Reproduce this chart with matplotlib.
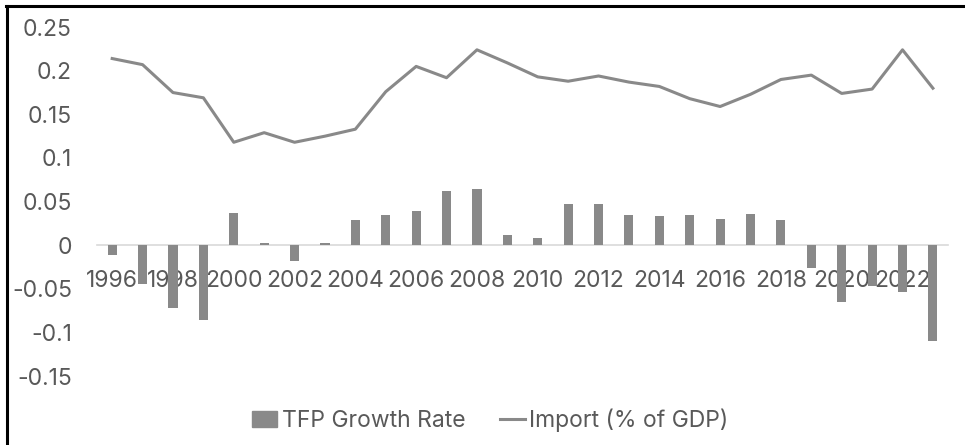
import matplotlib.pyplot as plt
import numpy as np
from matplotlib.lines import Line2D

years = list(range(1996, 2024))

tfp_growth = [-0.011, -0.044, -0.072, -0.086, 0.037, 0.002, -0.018, 0.002, 0.029, 0.035,
              0.039, 0.062, 0.065, 0.012, 0.008, 0.047, 0.047, 0.035, 0.034, 0.035,
              0.030, 0.036, 0.029, -0.026, -0.065, -0.047, -0.054, -0.110]

imports_gdp = [0.214, 0.207, 0.175, 0.169, 0.118, 0.129, 0.118, 0.125, 0.133, 0.176,
               0.205, 0.192, 0.224, 0.209, 0.193, 0.188, 0.194, 0.187, 0.182, 0.168,
               0.159, 0.173, 0.190, 0.195, 0.174, 0.179, 0.224, 0.180]

yticks = [-0.15, -0.1, -0.05, 0, 0.05, 0.1, 0.15, 0.2, 0.25]
ytick_labels = ['-0.15', '-0.1', '-0.05', '0', '0.05', '0.1', '0.15', '0.2', '0.25']

plt.rcParams['font.family'] = ['Inter', 'DejaVu Sans']
txt = '#595959'
grey = '#898989'
fs = 16.5

fig = plt.figure(figsize=(9.65, 4.45), dpi=100)
ax = fig.add_axes([0.1005, 0.155, 0.882, 0.784])

x = np.arange(len(years))
ax.bar(x, tfp_growth, width=0.3, color=grey, label='TFP Growth Rate', zorder=2)
ax.plot(x, imports_gdp, color=grey, lw=2.2, label='Import (% of GDP)', zorder=3)

ax.set_xlim(-0.5, len(years) - 0.5)
ax.set_ylim(-0.15, 0.25)
ax.set_yticks(yticks, ytick_labels)
ax.set_xticks(x[::2], [str(y) for y in years[::2]])

for s in ['left', 'right', 'top']:
    ax.spines[s].set_visible(False)
ax.spines['bottom'].set_position(('data', 0))
ax.spines['bottom'].set_color('#d9d9d9')
ax.spines['bottom'].set_linewidth(1.2)
ax.spines['bottom'].set_zorder(1)
ax.tick_params(axis='both', length=0, labelsize=fs, colors=txt)
ax.tick_params(axis='y', pad=18)
ax.tick_params(axis='x', pad=18)

handles = [plt.Rectangle((0, 0), 1, 1, color=grey),
           Line2D([0], [0], color=grey, lw=2.2)]
fig.legend(handles, ['TFP Growth Rate', 'Import (% of GDP)'], loc='center',
           bbox_to_anchor=(0.508, 0.055), ncol=2, frameon=False, fontsize=fs,
           labelcolor=txt, handlelength=1.1, handletextpad=0.2, columnspacing=1.5)

# black frame on the left and top edges
fig.add_artist(Line2D([0.0072, 0.0072], [0, 0.9865], color='black', lw=2.2,
                      transform=fig.transFigure))
fig.add_artist(Line2D([0.0062, 1], [0.9865, 0.9865], color='black', lw=2.2,
                      transform=fig.transFigure))

fig.savefig('out.png', dpi=100)
